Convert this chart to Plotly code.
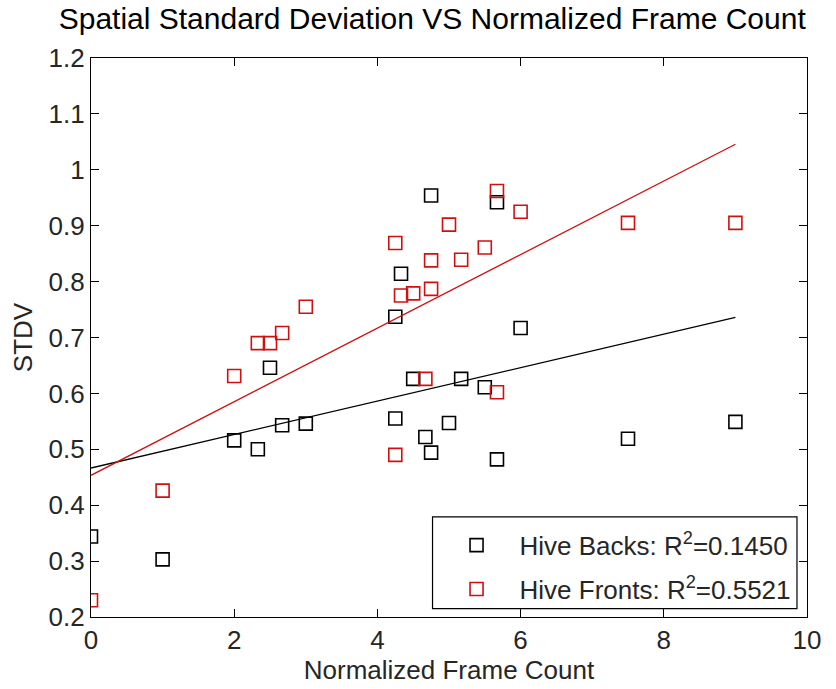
import numpy as np
import plotly.graph_objects as go

# Normalized frame count (shared by both hive sides)
frame_count = [0, 1, 2, 2.33, 2.5, 2.67, 3, 4.25, 4.25, 4.33, 4.5,
               4.67, 4.75, 4.75, 5, 5.17, 5.5, 5.67, 5.67, 6, 7.5, 9]

# Spatial standard deviation, hive backs
stdv_backs = [0.344, 0.303, 0.516, 0.500, 0.646, 0.543, 0.546, 0.737, 0.555,
              0.814, 0.626, 0.522, 0.954, 0.494, 0.547, 0.626, 0.611, 0.942,
              0.482, 0.717, 0.519, 0.549]

# Spatial standard deviation, hive fronts
stdv_fronts = [0.230, 0.426, 0.631, 0.690, 0.690, 0.708, 0.755, 0.869, 0.490,
               0.775, 0.779, 0.626, 0.838, 0.787, 0.902, 0.839, 0.861, 0.962,
               0.602, 0.925, 0.905, 0.905]

legend_backs = "Hive Backs: R<sup>2</sup>=0.1450"
legend_fronts = "Hive Fronts: R<sup>2</sup>=0.5521"

x_ticks = [0, 2, 4, 6, 8, 10]
y_ticks = [0.2, 0.3, 0.4, 0.5, 0.6, 0.7, 0.8, 0.9, 1.0, 1.1, 1.2]
y_tick_text = ["0.2", "0.3", "0.4", "0.5", "0.6", "0.7", "0.8", "0.9", "1", "1.1", "1.2"]

FONT = "Liberation Sans, Arial, sans-serif"
TEXT = "#262626"
RED = "#d01010"

x = np.array(frame_count)
x_fit = np.linspace(x.min(), x.max(), 50)

fig = go.Figure()

for y_vals, color, name, grp in [(stdv_backs, "black", legend_backs, "backs"),
                                 (stdv_fronts, RED, legend_fronts, "fronts")]:
    fig.add_trace(go.Scatter(
        x=frame_count, y=y_vals, mode="markers", name=name, legendgroup=grp,
        marker=dict(symbol="square-open", size=13, color=color,
                    line=dict(width=1.6, color=color)),
    ))

# Least-squares trend lines
for y_vals, color in [(stdv_backs, "black"), (stdv_fronts, RED)]:
    slope, intercept = np.polyfit(x, np.array(y_vals), 1)
    fig.add_trace(go.Scatter(
        x=x_fit, y=slope * x_fit + intercept, mode="lines",
        line=dict(color=color, width=1.3), showlegend=False, hoverinfo="skip",
    ))

axis_common = dict(
    showline=True, linecolor="black", linewidth=1.2, mirror="ticks",
    ticks="inside", ticklen=8, tickwidth=1.2, tickcolor="black",
    showgrid=False, zeroline=False,
    tickfont=dict(family=FONT, size=26, color=TEXT),
)

# Legend frame
fig.add_shape(type="rect", xref="paper", yref="paper",
              x0=0.477, x1=0.986, y0=0.015, y1=0.179,
              line=dict(color="black", width=1.2), fillcolor="white", layer="below")

fig.update_layout(
    width=836, height=689,
    margin=dict(l=91, r=29, t=58, b=68),
    paper_bgcolor="white", plot_bgcolor="white",
    title=dict(text="Spatial Standard Deviation VS Normalized Frame Count",
               font=dict(family=FONT, size=30, color="black"),
               x=0.517, xanchor="center", y=0.988, yanchor="top"),
    xaxis=dict(range=[0, 10], tickvals=x_ticks,
               title=dict(text="Normalized Frame Count", standoff=4,
                          font=dict(family=FONT, size=26, color=TEXT)),
               **axis_common),
    yaxis=dict(range=[0.2, 1.2], tickvals=y_ticks, ticktext=y_tick_text,
               title=dict(text="STDV", standoff=8,
                          font=dict(family=FONT, size=26, color=TEXT)),
               **axis_common),
    legend=dict(x=0.984, xanchor="right", y=0.089, yanchor="middle",
                borderwidth=0, bgcolor="rgba(0,0,0,0)",
                itemwidth=76, traceorder="grouped", tracegroupgap=7,
                font=dict(family=FONT, size=26, color=TEXT)),
)

fig.write_html("out.html")
